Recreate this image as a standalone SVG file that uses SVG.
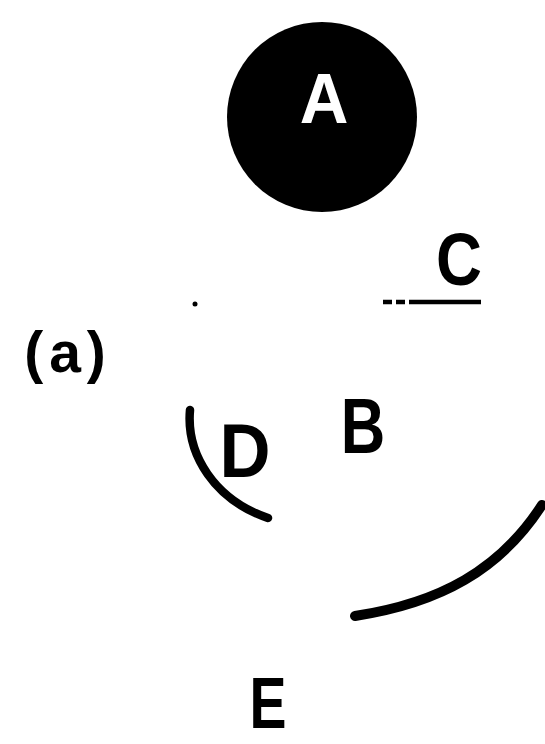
<svg xmlns="http://www.w3.org/2000/svg" width="545" height="744" viewBox="0 0 545 744">
<style>
.lbl{font-family:"Liberation Sans",Arial,sans-serif;font-weight:bold;text-anchor:middle;fill:#000}
.arc{fill:none;stroke:#000;stroke-linecap:round}
</style>
<rect width="545" height="744" fill="#fff"/>
<g id="nodeA">
<circle cx="322" cy="117" r="95" fill="#000"/>
<text class="lbl" font-size="71" style="fill:#fff" transform="translate(324,123) scale(0.95,1)">A</text>
</g>
<g id="nodeC">
<text class="lbl" font-size="74" transform="translate(459,285) scale(0.86,1)">C</text>
</g>
<g id="labelA">
<text class="lbl" font-size="57" letter-spacing="6" transform="translate(68,372)">(a)</text>
</g>
<g id="nodeB">
<text class="lbl" font-size="77" transform="translate(363,453) scale(0.8,1)">B</text>
</g>
<g id="nodeD">
<text class="lbl" font-size="76" transform="translate(245,477) scale(0.93,1)">D</text>
</g>
<g id="nodeE">
<text class="lbl" font-size="73" transform="translate(268,728) scale(0.76,1)">E</text>
</g>
<g id="connectors">
<circle cx="195" cy="304" r="2.5" fill="#000"/>
<line x1="383" y1="302" x2="481" y2="302" stroke="#000" stroke-width="4.5" stroke-dasharray="9 4 9 4 72 0"/>
<path class="arc" d="M190,410 C186,455 215,500 268,518" stroke-width="8.5"/>
<path class="arc" d="M542,505 C500,570 440,603 355,616" stroke-width="10"/>
</g>
</svg>
